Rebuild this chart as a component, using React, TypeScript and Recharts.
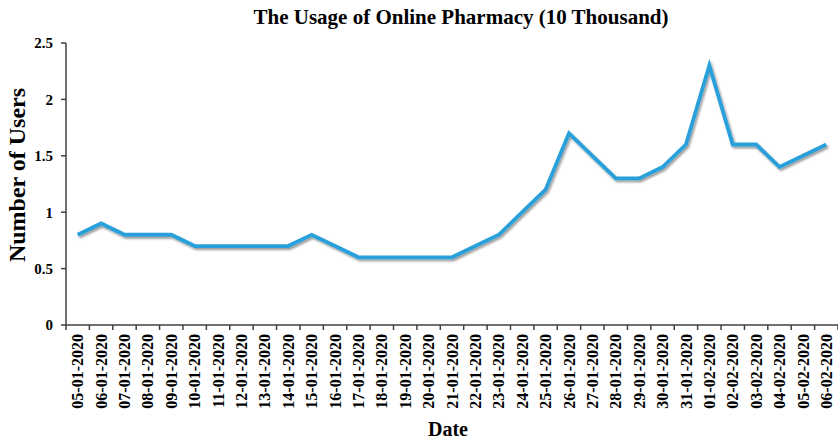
import React from 'react';
import { LineChart, Line, XAxis, YAxis, Label } from 'recharts';

const dates = [
  '05-01-2020', '06-01-2020', '07-01-2020', '08-01-2020', '09-01-2020', '10-01-2020',
  '11-01-2020', '12-01-2020', '13-01-2020', '14-01-2020', '15-01-2020', '16-01-2020',
  '17-01-2020', '18-01-2020', '19-01-2020', '20-01-2020', '21-01-2020', '22-01-2020',
  '23-01-2020', '24-01-2020', '25-01-2020', '26-01-2020', '27-01-2020', '28-01-2020',
  '29-01-2020', '30-01-2020', '31-01-2020', '01-02-2020', '02-02-2020', '03-02-2020',
  '04-02-2020', '05-02-2020', '06-02-2020',
];

const users = [
  0.8, 0.9, 0.8, 0.8, 0.8, 0.7,
  0.7, 0.7, 0.7, 0.7, 0.8, 0.7,
  0.6, 0.6, 0.6, 0.6, 0.6, 0.7,
  0.8, 1.0, 1.2, 1.7, 1.5, 1.3,
  1.3, 1.4, 1.6, 2.3, 1.6, 1.6,
  1.4, 1.5, 1.6,
];

const yTicks = [0, 0.5, 1, 1.5, 2, 2.5];

const data = dates.map((d, i) => ({ date: d, users: users[i] }));

const FONT = '"Liberation Serif", "Times New Roman", serif';
const AXIS_COLOR = '#404040';

const W = 838;
const H = 441;
const LEFT = 66;
const TOP = 43;
const BW = (W - LEFT) / dates.length;

const XTick = (props: any) => {
  const { x, y, payload, index } = props;
  const axisY = y - 8;
  return (
    <g>
      <line x1={x - BW / 2} x2={x - BW / 2} y1={axisY} y2={axisY + 5} stroke={AXIS_COLOR} strokeWidth={1.5} />
      {index === dates.length - 1 ? (
        <line x1={x + BW / 2} x2={x + BW / 2} y1={axisY} y2={axisY + 5} stroke={AXIS_COLOR} strokeWidth={1.5} />
      ) : null}
      <text
        x={x}
        y={axisY + 9}
        transform={`rotate(-90, ${x}, ${axisY + 9})`}
        textAnchor="end"
        dy="0.35em"
        fontFamily={FONT}
        fontWeight="bold"
        fontSize={16}
        fill="#000"
      >
        {payload.value}
      </text>
    </g>
  );
};

export default function App() {
  return (
    <div style={{ position: 'absolute', left: 0, top: 0, width: W, height: H, background: '#fff' }}>
      <svg width={0} height={0} style={{ position: 'absolute' }}>
        <defs>
          <filter id="lineShadow" x="-10%" y="-10%" width="120%" height="130%">
            <feDropShadow dx="1.5" dy="2" stdDeviation="1.3" floodColor="#000" floodOpacity="0.4" />
          </filter>
        </defs>
      </svg>
      <style>{`.shadowline path, path.shadowline, .recharts-line-curve { filter: url(#lineShadow); }`}</style>
      <div
        style={{
          position: 'absolute',
          left: 0,
          top: 4,
          width: 922,
          textAlign: 'center',
          fontFamily: FONT,
          fontWeight: 'bold',
          fontSize: 21,
          color: '#000',
          lineHeight: '26px',
        }}
      >
        The Usage of Online Pharmacy (10 Thousand)
      </div>
      <LineChart width={W} height={H} data={data} margin={{ top: TOP, right: 0, left: 0, bottom: 0 }}>
        <XAxis
          dataKey="date"
          scale="band"
          interval={0}
          height={H - 325}
          tick={<XTick />}
          tickLine={false}
          tickSize={5}
          tickMargin={3}
          axisLine={{ stroke: AXIS_COLOR, strokeWidth: 1.5 }}
        >
          <Label
            value="Date"
            position="insideBottom"
            offset={5}
            dx={-4}
            style={{ fontFamily: FONT, fontWeight: 'bold', fontSize: 20, fill: '#000' }}
          />
        </XAxis>
        <YAxis
          width={LEFT}
          domain={[0, 2.5]}
          ticks={yTicks}
          interval={0}
          tickSize={5}
          tickMargin={8}
          axisLine={{ stroke: AXIS_COLOR, strokeWidth: 1.5 }}
          tickLine={{ stroke: AXIS_COLOR, strokeWidth: 1.5 }}
          tick={{ fontFamily: FONT, fontWeight: 'bold', fontSize: 15, fill: '#000' }}
        >
          <Label
            content={() => (
              <text
                x={25}
                y={175}
                transform="rotate(-90, 25, 175)"
                textAnchor="middle"
                fontFamily={FONT}
                fontWeight="bold"
                fontSize={24}
                fill="#000"
              >
                Number of Users
              </text>
            )}
          />
        </YAxis>
        <Line
          type="linear"
          dataKey="users"
          stroke="#29A0DA"
          strokeWidth={3.8}
          dot={false}
          activeDot={false}
          isAnimationActive={false}
          className="shadowline"
          filter="url(#lineShadow)"
        />
      </LineChart>
    </div>
  );
}
